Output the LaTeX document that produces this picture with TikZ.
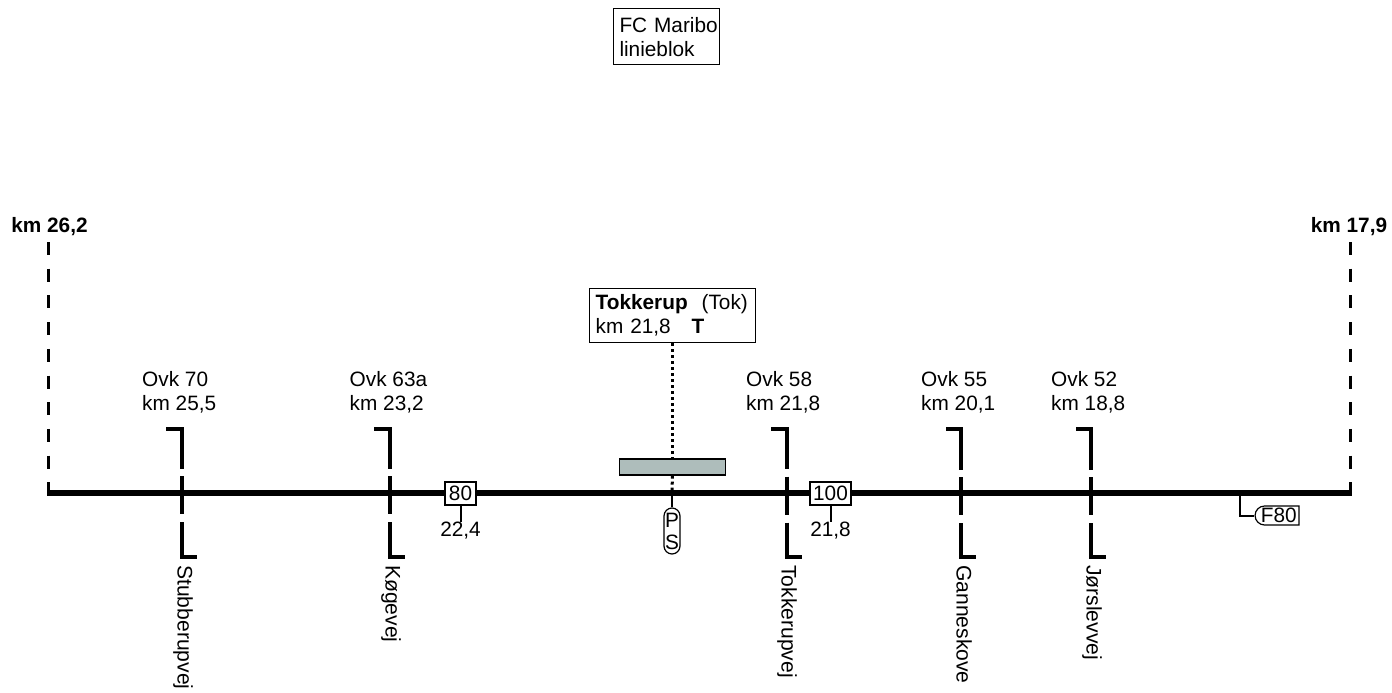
\documentclass[tikz,border=0pt]{standalone}
\usepackage{fontspec}
\setmainfont{Liberation Sans}
\usetikzlibrary{shapes.misc}
\definecolor{perronfill}{HTML}{AEBDBB}

\tikzset{
    txt/.style={inner sep=0pt, align=left, font=\fontsize{20.8}{24}\selectfont},
    ovk/.style={txt, anchor=north west},
    vej/.style={txt, rotate=-90, anchor=base west, font=\fontsize{21.1}{24}\selectfont},
    kmend/.style={txt, font=\fontsize{20.8}{24}\selectfont\bfseries},
    speed/.style={txt, draw, line width=1.2pt, fill=white, minimum height=23pt},
    stem/.style={line width=2pt},
    track/.style={line width=6pt, line cap=butt},
    road/.style={line width=4pt, miter limit=10, dash pattern=on 56pt off 7.5pt on 38pt off 8pt on 60pt},
    limit/.style={line width=3pt, dash pattern=on 13pt off 13.7pt},
    tie/.style={line width=3pt, dash pattern=on 3pt off 3pt},
}

\begin{document}
\begin{tikzpicture}[x=1pt, y=-1pt]
    \useasboundingbox (0,0) rectangle (1392,693);

    % fjernstyring
    \node[txt, draw, line width=1pt, anchor=north west, minimum width=106pt, minimum height=55.5pt, inner xsep=6pt, text width=94pt] (fc) at (613,8.5) {\mbox{FC Maribo}\\linieblok};

    % strækning
    \coordinate (west) at (48.5,492.5);
    \coordinate (east) at (1350,492.5);
    \coordinate (westtop) at (48.5,242);
    \coordinate (easttop) at (1350,242);
    \node[kmend] (kmwest) at (49.5,227) {km 26,2};
    \node[kmend] (kmeast) at (1349,227) {km 17,9};
    \draw[limit] (westtop) -- (west);
    \draw[limit] (easttop) -- (east);
    \draw[track] ([xshift=-1.5pt]west) -- ([xshift=1.5pt]east);

    % overkørsler
    \coordinate (ovk70a) at (166,428.5);
    \coordinate (ovk70b) at (182,428.5);
    \coordinate (ovk70c) at (182,557);
    \coordinate (ovk70d) at (197,557);
    \draw[road] (ovk70a) -- (ovk70b) -- (ovk70c) -- (ovk70d);
    \node[ovk] (ovk70) at (142,371.5) {Ovk 70\\km 25,5};
    \node[vej] (stubberupvej) at (177.5,565) {Stubberupvej};

    \coordinate (ovk63a) at (374,428.5);
    \coordinate (ovk63b) at (390,428.5);
    \coordinate (ovk63c) at (390,557);
    \coordinate (ovk63d) at (405,557);
    \draw[road] (ovk63a) -- (ovk63b) -- (ovk63c) -- (ovk63d);
    \node[ovk] (ovk63) at (349.5,371.5) {Ovk 63a\\km 23,2};
    \node[vej] (koegevej) at (385.5,565) {Køgevej};

    \coordinate (ovk58a) at (771,428.5);
    \coordinate (ovk58b) at (786.5,428.5);
    \coordinate (ovk58c) at (786.5,557);
    \coordinate (ovk58d) at (802,557);
    \draw[road] (ovk58a) -- (ovk58b) -- (ovk58c) -- (ovk58d);
    \node[ovk] (ovk58) at (746,371.5) {Ovk 58\\km 21,8};
    \node[vej] (tokkerupvej) at (781.5,565) {Tokkerupvej};

    \coordinate (ovk55a) at (946,428.5);
    \coordinate (ovk55b) at (961,428.5);
    \coordinate (ovk55c) at (961,557);
    \coordinate (ovk55d) at (976,557);
    \draw[road] (ovk55a) -- (ovk55b) -- (ovk55c) -- (ovk55d);
    \node[ovk] (ovk55) at (921,371.5) {Ovk 55\\km 20,1};
    \node[vej] (ganneskove) at (956.5,565) {Ganneskove};

    \coordinate (ovk52a) at (1076,428.5);
    \coordinate (ovk52b) at (1091,428.5);
    \coordinate (ovk52c) at (1091,557);
    \coordinate (ovk52d) at (1106,557);
    \draw[road] (ovk52a) -- (ovk52b) -- (ovk52c) -- (ovk52d);
    \node[ovk] (ovk52) at (1051,371.5) {Ovk 52\\km 18,8};
    \node[vej] (joerslevvej) at (1086.5,565) {Jørslevvej};

    % station
    \node[txt, draw, line width=1.3pt, anchor=north west, minimum width=166pt, minimum height=54pt, inner xsep=6pt, text width=154pt] (tokkerup) at (589,288) {\textbf{Tokkerup}\ \ (Tok)\\km 21,8\ \ \ \textbf{T}};
    \node[draw, line width=1.3pt, fill=perronfill, minimum width=106pt, minimum height=16pt, inner sep=0pt] (perron) at (672.5,467) {};
    \coordinate (trackmid) at (672,490);
    \draw[tie] (tokkerup.south -| perron.north) -- (perron.north);
    \draw[tie] (perron.south) -- (trackmid);

    % P S
    \node[txt, draw, line width=1.2pt, rounded corners=8pt, align=center, minimum width=16pt, minimum height=46pt, font=\fontsize{20.8}{22}\selectfont] (ps) at (672,531) {P\\S};
    \coordinate (pstop) at (672,495);
    \draw[stem] (pstop) -- (ps.north);

    % hastighed
    \node[speed, minimum width=31pt] (v80) at (460.5,493.5) {80};
    \node[txt] (km80) at (460.5,531) {22,4};
    \draw[stem] (v80.south) -- (km80.north);
    \node[speed, minimum width=41pt] (v100) at (830.5,493.5) {100};
    \node[txt] (km100) at (830.5,531) {21,8};
    \draw[stem] (v100.south) -- (km100.north);

    % F80
    \coordinate (f80top) at (1240,495);
    \node[txt, draw, line width=1.2pt, rounded rectangle, rounded rectangle right arc=none, minimum width=44pt, minimum height=19pt] (f80) at (1278.8,515.5) {F80};
    \draw[stem] (f80top) |- (f80.west);
\end{tikzpicture}
\end{document}
